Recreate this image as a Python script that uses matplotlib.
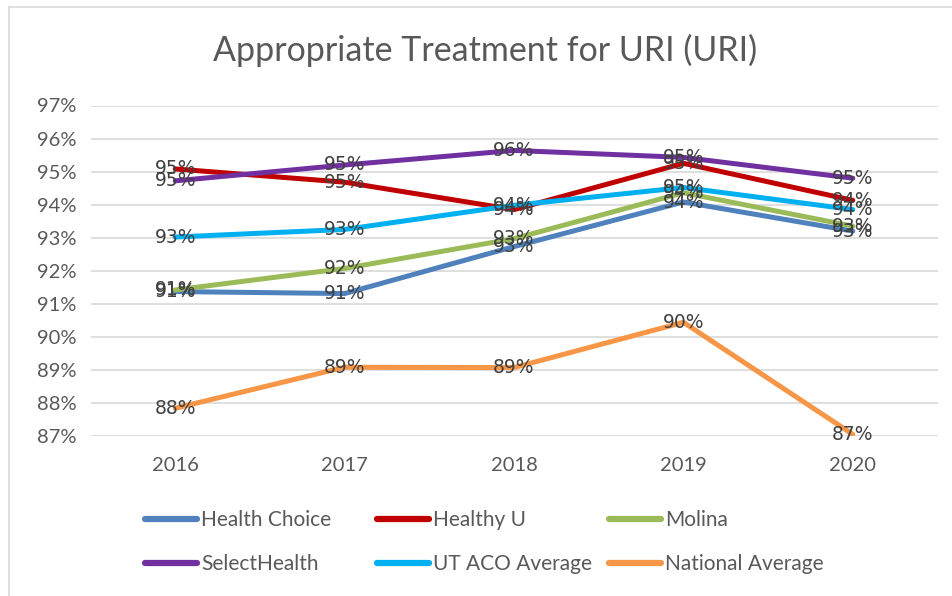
import matplotlib
matplotlib.use("Agg")
import matplotlib.pyplot as plt
from matplotlib.lines import Line2D

years = ["2016", "2017", "2018", "2019", "2020"]
health_choice = [91.37, 91.31, 92.73, 94.08, 93.20]
healthy_u = [95.08, 94.68, 93.85, 95.25, 94.13]
molina = [91.42, 92.07, 92.97, 94.36, 93.35]
select_health = [94.72, 95.20, 95.64, 95.43, 94.80]
ut_aco_avg = [93.02, 93.25, 93.98, 94.52, 93.85]
national_avg = [87.84, 89.08, 89.07, 90.44, 87.05]

series = [
    ("Health Choice", health_choice, "#4F81BD"),
    ("Healthy U", healthy_u, "#C00000"),
    ("Molina", molina, "#9BBB59"),
    ("SelectHealth", select_health, "#7030A0"),
    ("UT ACO Average", ut_aco_avg, "#00B0F0"),
    ("National Average", national_avg, "#F79646"),
]

ui_font = "Lato"
text_col = "#595959"

fig = plt.figure(figsize=(9.52, 5.96), dpi=100)
ax = fig.add_axes([90.5 / 952, 1 - 436 / 596, (937.5 - 90.5) / 952, (436 - 105.5) / 596])

x = list(range(len(years)))
for name, vals, col in series:
    ax.plot(x, vals, color=col, lw=3.6, solid_capstyle="round", solid_joinstyle="round", zorder=3)
    for xi, v in zip(x, vals):
        ax.text(xi, v, f"{v:.0f}%", ha="center", va="center", fontsize=13.5,
                family="DejaVu Sans", color="#404040", zorder=4)

ax.set_xlim(-0.5, 4.5)
ax.set_ylim(87, 97)
ax.set_yticks(range(87, 98))
ax.set_yticklabels([f"{t}%" for t in range(87, 98)])
ax.set_xticks(x)
ax.set_xticklabels(years)
ax.grid(axis="y", color="#D9D9D9", lw=1.2, zorder=0)
ax.tick_params(length=0, labelsize=14.5, labelcolor=text_col, pad=10)
ax.tick_params(axis="x", pad=15)
for lab in ax.get_xticklabels() + ax.get_yticklabels():
    lab.set_family(ui_font)
for s in ax.spines.values():
    s.set_visible(False)

fig.text(485 / 952, 1 - 50 / 596, "Appropriate Treatment for URI (URI)", ha="center", va="center",
         fontsize=24.5, family=ui_font, color=text_col)

# chart border (top and left edge visible)
fig.add_artist(Line2D([9 / 952, 9 / 952], [0, 1 - 7 / 596], transform=fig.transFigure, color="#D9D9D9", lw=1.2))
fig.add_artist(Line2D([9 / 952, 1], [1 - 7 / 596, 1 - 7 / 596], transform=fig.transFigure, color="#D9D9D9", lw=1.2))

# legend entries placed in a 3x2 grid, row-major like the original
col_x = [145, 377, 609]
row_y = [520, 564]
for i, (name, _, col) in enumerate(series):
    h = Line2D([0], [0], color=col, lw=4.5, solid_capstyle="round")
    leg = fig.legend([h], [name], loc="center left",
                     bbox_to_anchor=(col_x[i % 3] / 952, 1 - row_y[i // 3] / 596), frameon=False,
                     prop={"family": ui_font, "size": 15}, handlelength=2.5,
                     handletextpad=0.2, borderpad=0, borderaxespad=0)
    leg.get_texts()[0].set_color(text_col)

fig.savefig("out.png", dpi=100)
